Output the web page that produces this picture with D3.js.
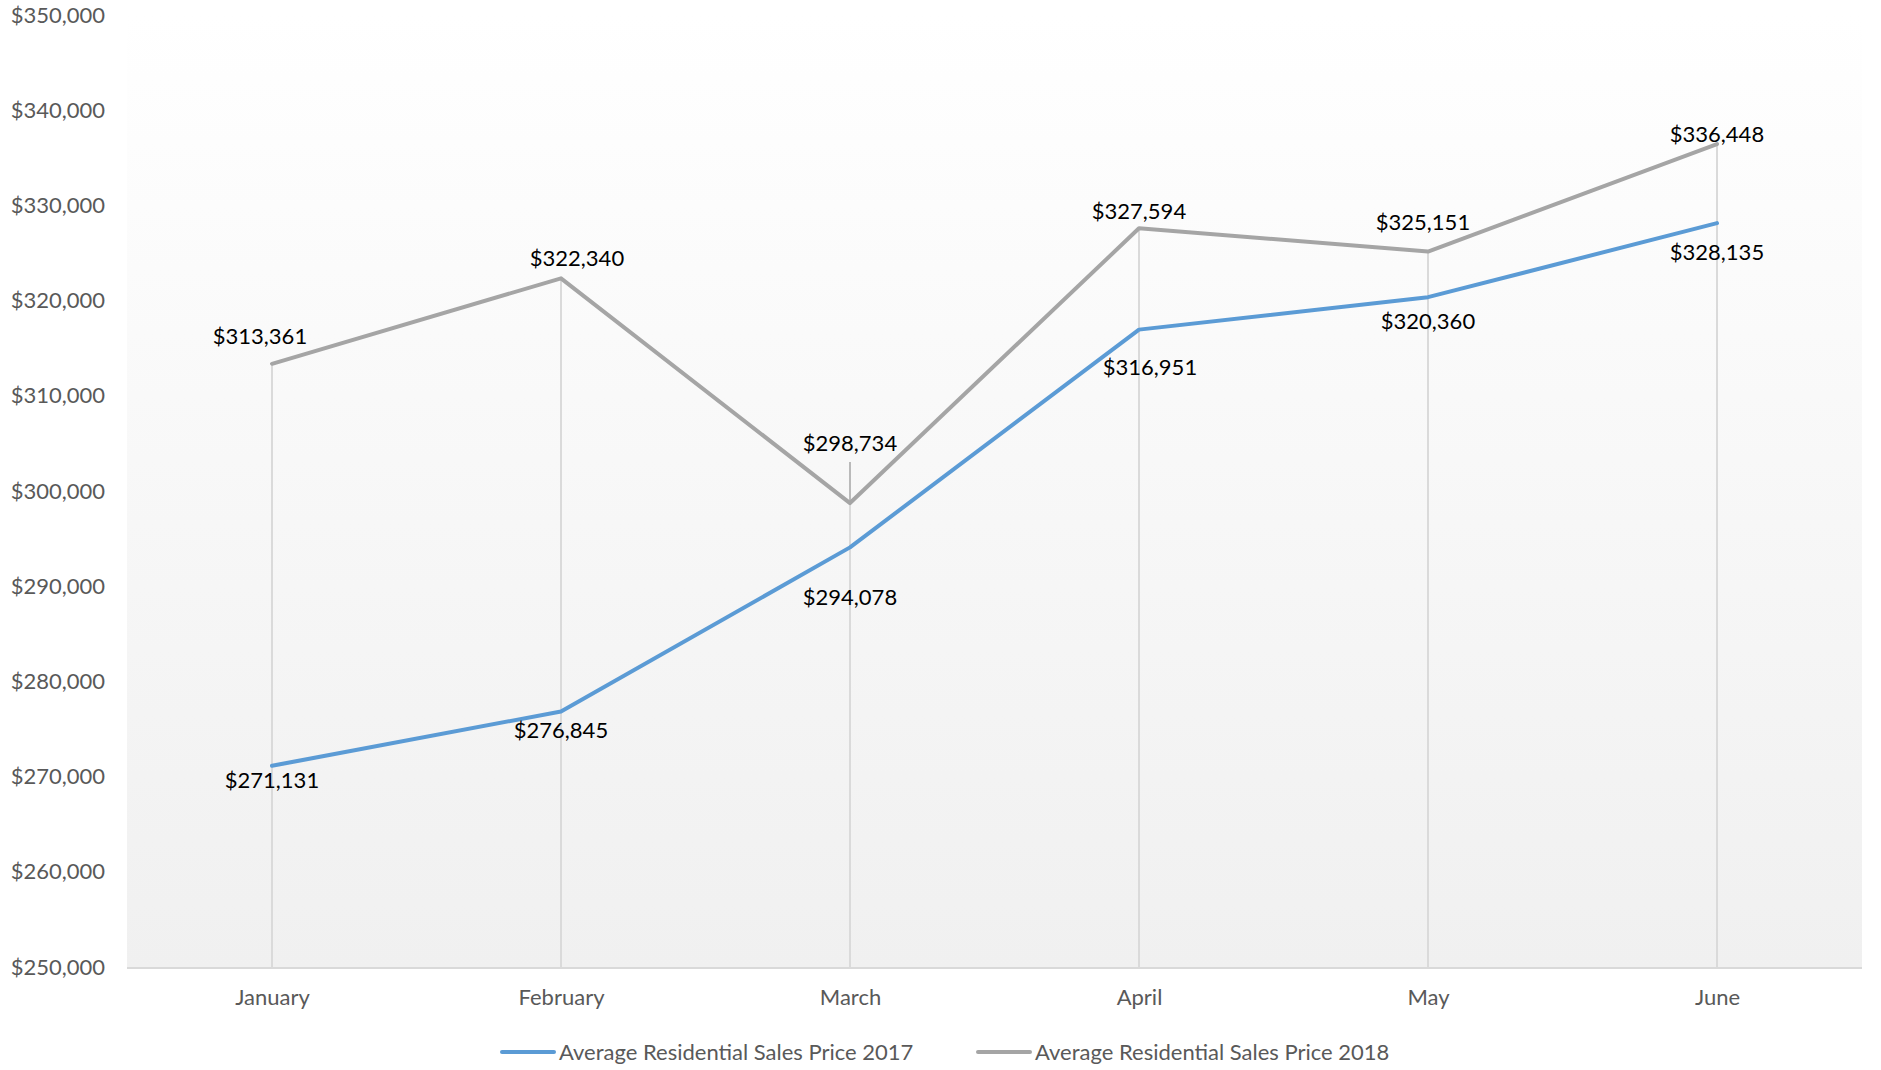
<!DOCTYPE html>
<html>
<head>
<meta charset="utf-8">
<script src="https://cdn.jsdelivr.net/npm/d3@7"></script>
<style>
  html, body { margin: 0; padding: 0; background: #fff; }
  svg { display: block; }
  text { font-family: Lato, "Open Sans", sans-serif; }
</style>
</head>
<body>
<svg id="chart" width="1881" height="1070"></svg>
<script>
// ---- data ----
const months = ["January", "February", "March", "April", "May", "June"];
const price2017 = [271131, 276845, 294078, 316951, 320360, 328135];
const price2018 = [313361, 322340, 298734, 327594, 325151, 336448];
const seriesNames = ["Average Residential Sales Price 2017", "Average Residential Sales Price 2018"];
const yTicks = [250000, 260000, 270000, 280000, 290000, 300000, 310000, 320000, 330000, 340000, 350000];

// ---- layout (label offsets from points, px) ----
const labelOffset2018 = [[-12, -28], [16, -20], [0, -60], [0, -17], [-5, -29], [0, -10]];
const labelOffset2017 = [[0, 14], [0, 19], [0, 50], [11, 38], [0, 24], [0, 29]];

const svg = d3.select("#chart");
const plot = { left: 127, right: 1862, top: 15, bottom: 967 };

const x = d3.scalePoint().domain(months).range([272, 1717]);
const y = d3.scaleLinear().domain([250000, 350000]).range([plot.bottom, plot.top]);
const fmt = v => "$" + d3.format(",")(v);

// background gradient
const defs = svg.append("defs");
const grad = defs.append("linearGradient").attr("id", "bg").attr("x1", 0).attr("y1", 0).attr("x2", 0).attr("y2", 1);
grad.append("stop").attr("offset", "0%").attr("stop-color", "#ffffff");
grad.append("stop").attr("offset", "100%").attr("stop-color", "#f0f0f0");
svg.append("rect")
  .attr("x", plot.left).attr("y", plot.top)
  .attr("width", plot.right - plot.left).attr("height", plot.bottom - plot.top)
  .attr("fill", "url(#bg)");

// drop lines
svg.append("g").selectAll("line").data(months).join("line")
  .attr("x1", d => x(d)).attr("x2", d => x(d))
  .attr("y1", (d, i) => y(Math.max(price2017[i], price2018[i])))
  .attr("y2", plot.bottom)
  .attr("stroke", "#dadada").attr("stroke-width", 2);

// y axis (labels only)
const yAxis = d3.axisLeft(y).tickValues(yTicks).tickFormat(fmt).tickSize(0).tickPadding(0);
const gy = svg.append("g").attr("transform", "translate(105,0)").call(yAxis);
gy.select(".domain").remove();
gy.selectAll("text").attr("fill", "#595959").style("font-size", "22px").style("font-family", "Lato, sans-serif");

// x axis
const xAxis = d3.axisBottom(x).tickSize(0).tickPadding(22);
const gx = svg.append("g").attr("transform", `translate(0,${plot.bottom})`).call(xAxis);
gx.select(".domain").remove();
gx.append("line").attr("x1", plot.left).attr("x2", plot.right).attr("y1", 1).attr("y2", 1)
  .attr("stroke", "#d9d9d9").attr("stroke-width", 2);
gx.selectAll("text").attr("fill", "#595959").style("font-size", "22px").style("font-family", "Lato, sans-serif");

// lines
const line = d3.line().x((d, i) => x(months[i])).y(d => y(d));
const colors = ["#5b9bd5", "#a5a5a5"];
[price2017, price2018].forEach((arr, k) => {
  svg.append("path").datum(arr).attr("d", line)
    .attr("fill", "none").attr("stroke", colors[k]).attr("stroke-width", 4)
    .attr("stroke-linejoin", "round").attr("stroke-linecap", "round");
});

// leader line for March 2018 label
const mi = 2;
svg.append("line")
  .attr("x1", x(months[mi])).attr("x2", x(months[mi]))
  .attr("y1", y(price2018[mi]) + labelOffset2018[mi][1] + 19)
  .attr("y2", y(price2018[mi]))
  .attr("stroke", "#a6a6a6").attr("stroke-width", 1.5);

// data labels
function labels(arr, offs) {
  svg.append("g").selectAll("text").data(arr).join("text")
    .attr("x", (d, i) => x(months[i]) + offs[i][0])
    .attr("y", (d, i) => y(d) + offs[i][1])
    .attr("dy", "0.35em")
    .attr("text-anchor", "middle")
    .attr("fill", "#000")
    .style("font-size", "22px")
    .text(fmt);
}
labels(price2018, labelOffset2018);
labels(price2017, labelOffset2017);

// legend
const legendItems = [{ x: 502, name: seriesNames[0], c: colors[0] }, { x: 978, name: seriesNames[1], c: colors[1] }];
const lg = svg.append("g").attr("transform", "translate(0,1052)");
legendItems.forEach(it => {
  lg.append("line").attr("x1", it.x).attr("x2", it.x + 52).attr("y1", 0).attr("y2", 0)
    .attr("stroke", it.c).attr("stroke-width", 4).attr("stroke-linecap", "round");
  lg.append("text").attr("x", it.x + 57).attr("y", 0).attr("dy", "0.35em")
    .attr("fill", "#595959").style("font-size", "22px").text(it.name);
});
</script>
</body>
</html>
